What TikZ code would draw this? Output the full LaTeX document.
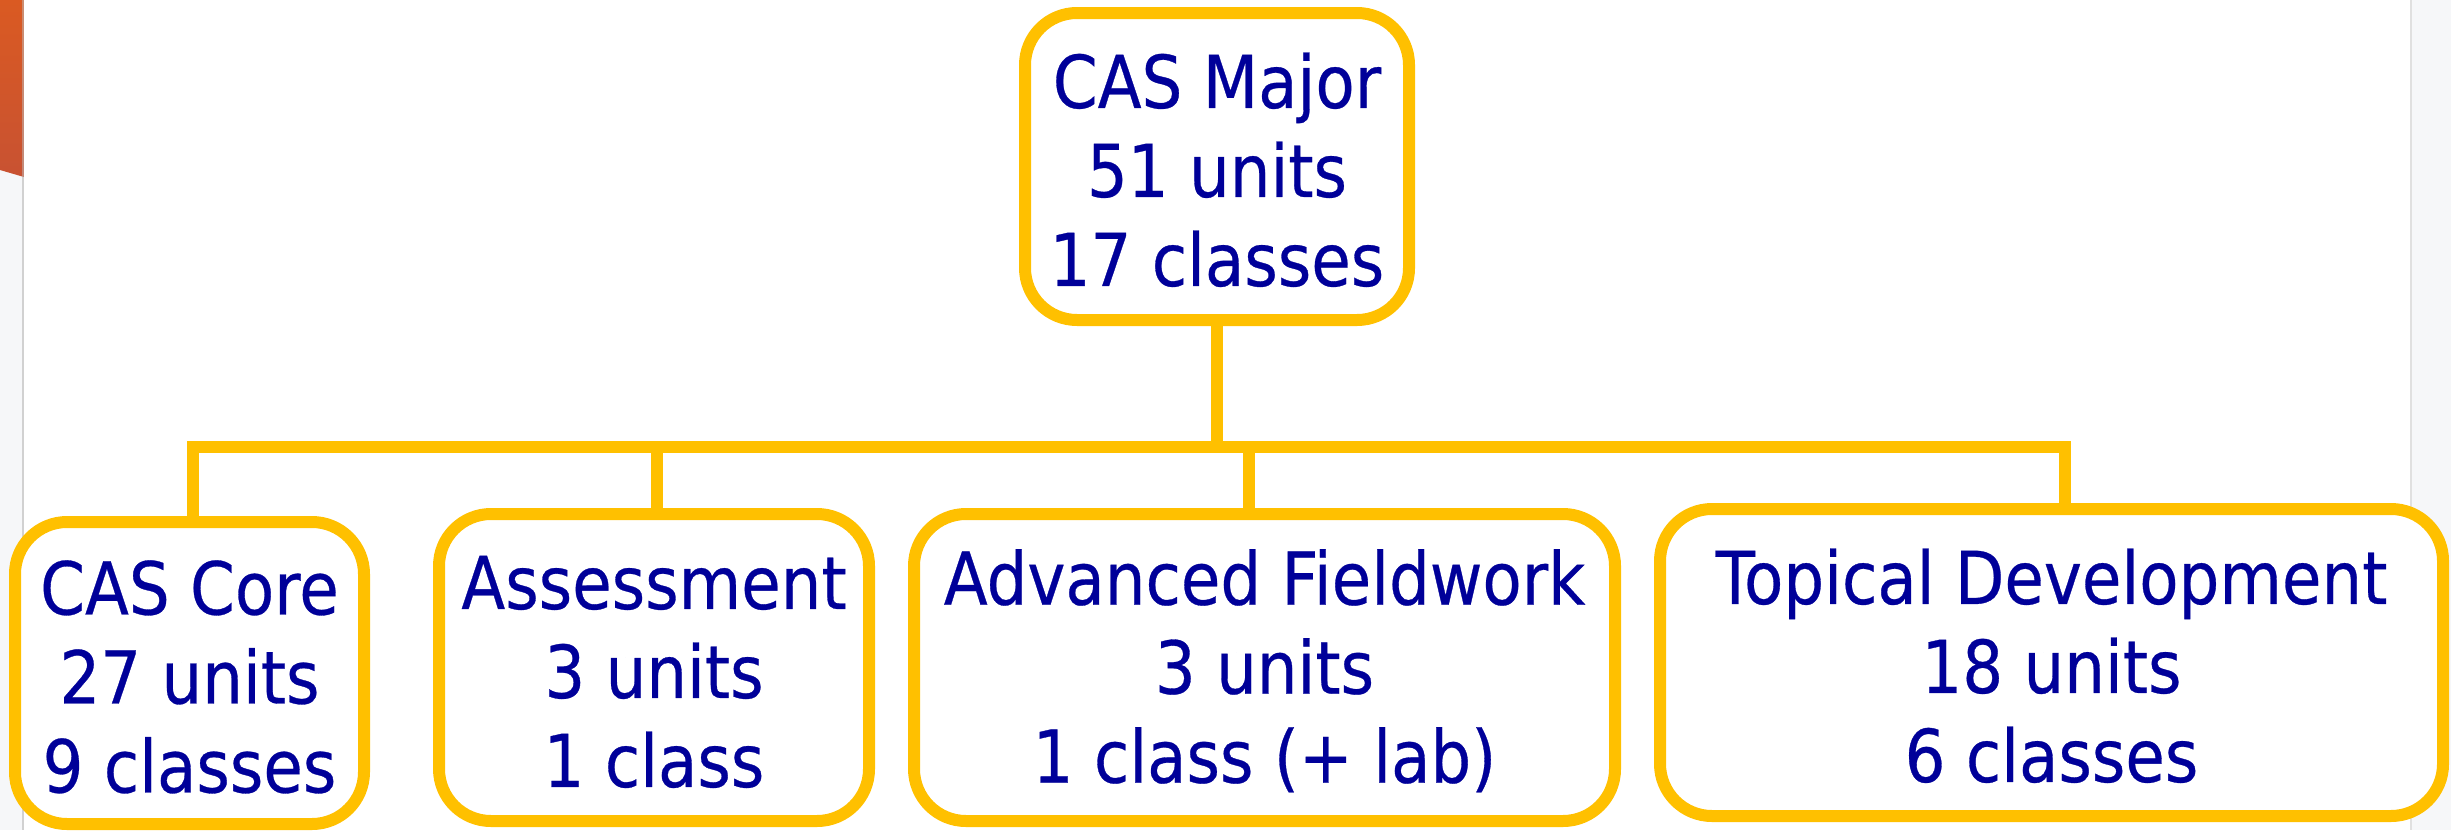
\documentclass[tikz,border=0pt]{standalone}
\usepackage{fontspec}
\setmainfont{DejaVu Sans}[FakeStretch=0.88, FakeBold=0.4]
\definecolor{boxline}{RGB}{255,192,0}
\definecolor{txtblue}{RGB}{0,0,153}
\definecolor{sidegray}{RGB}{246,247,249}
\definecolor{orangetop}{RGB}{218,90,34}
\definecolor{orangebot}{RGB}{200,82,50}
\newcommand{\firststrut}{\rule{0pt}{62pt}}
\tikzset{
  unitbox/.style={draw=boxline, line width=12pt, rounded corners=52pt, fill=white,
    inner sep=0pt, outer sep=0pt, align=center, text=txtblue,
    font=\fontsize{73}{89}\selectfont},
  link/.style={draw=boxline, line width=12pt}
}
\begin{document}
\begin{tikzpicture}[x=1pt,y=-1pt]
  % background
  \useasboundingbox (0,0) rectangle (2451,830);
  \fill[white] (0,0) rectangle (2451,830);
  \fill[sidegray] (0,0) rectangle (24,830);
  \fill[sidegray] (2410,0) rectangle (2451,830);
  \fill[black!18] (22,0) rectangle (24,830);
  \fill[black!12] (2410,0) rectangle (2412,830);
  \shade[top color=orangetop, bottom color=orangebot] (0,0) -- (24,0) -- (24,177) -- (0,170) -- cycle;
  \fill[black!25, opacity=0.5] (22,0) rectangle (24,177);

  % nodes
  \node[unitbox, minimum width=384pt, minimum height=307pt] (major) at (1217,166.5)
    {\firststrut CAS Major\\51 units\\17 classes};
  \node[unitbox, minimum width=349pt, minimum height=302pt] (core) at (189.5,673)
    {\firststrut CAS Core\\27 units\\9 classes};
  \node[unitbox, minimum width=430pt, minimum height=307pt] (assess) at (654,667.5)
    {\firststrut Assessment\\3 units\\1 class};
  \node[unitbox, minimum width=701pt, minimum height=307pt] (field) at (1264.5,667.5)
    {\firststrut Advanced Fieldwork\\3 units\\1 class (+ lab)};
  \node[unitbox, minimum width=783pt, minimum height=307pt] (topic) at (2051.5,662.5)
    {\firststrut Topical Development\\18 units\\6 classes};

  % connectors
  \coordinate (jcore) at (193,447);
  \coordinate (jassess) at (657,447);
  \coordinate (jfield) at (1249,447);
  \coordinate (jtopic) at (2065,447);
  \coordinate (jmajor) at (1217,447);
  \draw[link] ([xshift=-6pt]jcore) -- ([xshift=6pt]jtopic);
  \draw[link] (major.south) -- (jmajor);
  \draw[link] (jcore) -- (jcore |- core.north);
  \draw[link] (jassess) -- (jassess |- assess.north);
  \draw[link] (jfield) -- (jfield |- field.north);
  \draw[link] (jtopic) -- (jtopic |- topic.north);
\end{tikzpicture}
\end{document}
